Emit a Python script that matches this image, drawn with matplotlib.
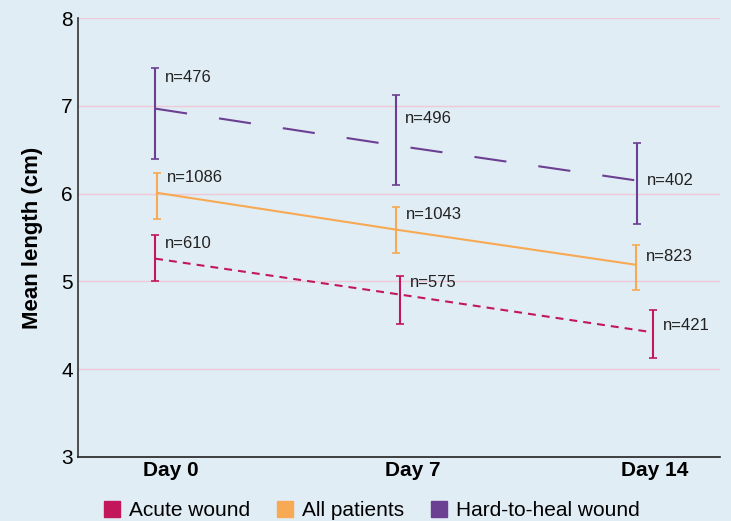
import numpy as np
import matplotlib.pyplot as plt

plt.rcParams['font.family'] = ['Liberation Sans', 'DejaVu Sans']

# ---- data ----
days = ['Day 0', 'Day 7', 'Day 14']
series = ['Acute wound', 'All patients', 'Hard-to-heal wound']

acute_mean = [5.26, 4.85, 4.42]
acute_hi = [5.53, 5.06, 4.67]
acute_lo = [5.01, 4.52, 4.13]
acute_n = [610, 575, 421]

all_mean = [6.01, 5.59, 5.19]
all_hi = [6.24, 5.85, 5.42]
all_lo = [5.71, 5.32, 4.90]
all_n = [1086, 1043, 823]

hard_mean = [6.97, 6.55, 6.15]
hard_hi = [7.43, 7.12, 6.58]
hard_lo = [6.40, 6.10, 5.66]
hard_n = [476, 496, 402]

# ---- styling ----
bg = '#e1edf5'
colors = ['#c2185b', '#f7a954', '#6b3f91']
shift = [[0.0, 0.02, 0.07], [0.008, 0.004, 0.0], [0.0, 0.0, 0.004]]
dashes = [(0, (3.8, 2.9)), '-', (0, (15.5, 15.5))]
label_y = [[5.43, 4.99, 4.50], [6.18, 5.76, 5.28], [7.32, 6.86, 6.15]]
tick_shift = [0.066, 0.07, 0.08]

fig = plt.figure(figsize=(7.31, 5.21), dpi=100, facecolor=bg)
ax = fig.add_axes([0.107, 0.123, 0.878, 0.842])
ax.set_facecolor(bg)

x = np.arange(len(days))
data = [(acute_mean, acute_hi, acute_lo, acute_n),
        (all_mean, all_hi, all_lo, all_n),
        (hard_mean, hard_hi, hard_lo, hard_n)]

for i, (m, hi, lo, n) in enumerate(data):
    xs = x + np.array(shift[i])
    m = np.array(m)
    err = [m - np.array(lo), np.array(hi) - m]
    ax.plot(xs, m, color=colors[i], lw=1.5, linestyle=dashes[i], label=series[i])
    ax.errorbar(xs, m, yerr=err, fmt='none', ecolor=colors[i], elinewidth=1.5,
                capsize=3, capthick=1.2)
    for j in range(len(days)):
        ax.annotate(f'n={n[j]}', (xs[j], label_y[i][j]), xytext=(7, 0),
                    textcoords='offset points', va='center', ha='left',
                    fontsize=12, color='#222222')

ax.set_ylim(3, 8)
ax.set_xlim(-0.32, 2.35)
ax.set_yticks([3, 4, 5, 6, 7, 8])
ax.set_xticks(x + np.array(tick_shift))
ax.set_xticklabels(days, fontweight='bold', fontsize=15)
ax.tick_params(axis='y', length=0, labelsize=15, pad=4)
ax.tick_params(axis='x', length=0, pad=3)
ax.yaxis.grid(True, color='#efc9d6', lw=1)
ax.set_axisbelow(True)
for s in ['top', 'right']:
    ax.spines[s].set_visible(False)
ax.spines['left'].set_color('#333333')
ax.spines['bottom'].set_color('#222222')
ax.spines['left'].set_linewidth(1.2)
ax.spines['bottom'].set_linewidth(1.2)
ax.set_ylabel('Mean length (cm)', fontweight='bold', fontsize=16, labelpad=13)

handles = [plt.Line2D([], [], marker='s', linestyle='none', markersize=11.5,
                      markerfacecolor=c, markeredgecolor=c) for c in colors]
fig.legend(handles, series, loc='lower center', bbox_to_anchor=(0.507, -0.035),
           ncol=3, frameon=False, fontsize=15, handletextpad=0.3,
           columnspacing=1.2, handlelength=1.0)

fig.savefig('out.png', dpi=100, facecolor=bg)
